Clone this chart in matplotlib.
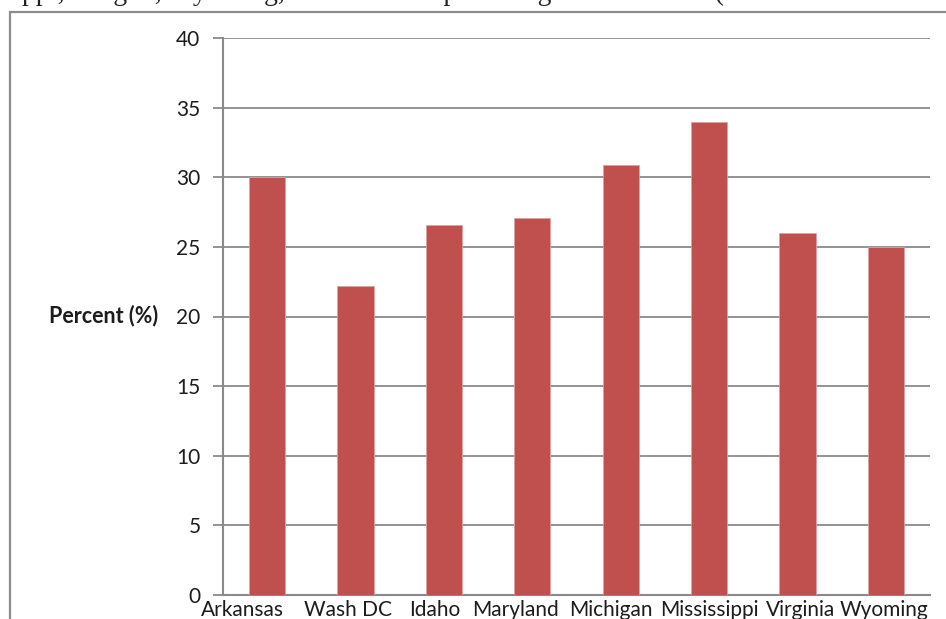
import matplotlib
matplotlib.use("Agg")
import matplotlib.pyplot as plt
from matplotlib.patches import Rectangle
from matplotlib.transforms import ScaledTranslation, blended_transform_factory

states = ["Arkansas", "Wash DC", "Idaho", "Maryland", "Michigan", "Mississippi", "Virginia", "Wyoming"]
percent = [30.0, 22.2, 26.6, 27.1, 30.9, 34.0, 26.0, 25.0]
yticks = [0, 5, 10, 15, 20, 25, 30, 35, 40]

W, H = 946, 619
fig = plt.figure(figsize=(W / 100, H / 100), dpi=100)
fig.patch.set_facecolor("white")

FONT = ["Lato", "DejaVu Sans"]
TXT = "#1c1c1c"

# surrounding document text (only its bottom edge is inside the crop)
fig.text(22 / W, 1 + 0.5 / H, "ppi, Oregon, Wyoming, and the other percentage of the adults (",
         family=["Liberation Serif"], fontsize=20, color="#222222", ha="left", va="baseline")

# chart frame
frame = Rectangle((10 / W, -0.1), 1.2, (H - 12) / H + 0.1, transform=fig.transFigure,
                  fill=False, edgecolor="#8c8c8c", linewidth=1.6, zorder=0)
fig.add_artist(frame)

ax = fig.add_axes([223 / W, (H - 595) / H, (930 - 223) / W, (595 - 38) / H])
x = list(range(len(states)))
ax.bar(x, percent, width=0.41, color="#C0504D", edgecolor="#d9a3a1", linewidth=0.6, zorder=3)

ax.set_xlim(-0.5, len(states) - 0.5)
ax.set_ylim(0, 40)
ax.set_yticks(yticks)
ax.set_yticklabels([str(v) for v in yticks], family=FONT, fontsize=15, color=TXT)
ax.set_xticks(x)
ax.set_xticklabels([])

# category labels, with the horizontal placement shifts (pixels) of the original chart
shifts_px = [-25, -8, -9, -17, -10, 0, 3, -2]
base = blended_transform_factory(ax.transData, ax.transAxes)
for xi, name, dx in zip(x, states, shifts_px):
    tr = base + ScaledTranslation(dx / 100, -15 / 100, fig.dpi_scale_trans)
    ax.text(xi, 0, name, transform=tr, family=FONT, fontsize=15, color=TXT,
            ha="center", va="center", clip_on=False)

ax.yaxis.grid(True, color="#8a8a8a", linewidth=1.3, zorder=0)
ax.set_axisbelow(True)
for s in ["top", "right"]:
    ax.spines[s].set_visible(False)
for s in ["left", "bottom"]:
    ax.spines[s].set_color("#8a8a8a")
    ax.spines[s].set_linewidth(1.5)
ax.tick_params(axis="y", length=7.2, width=1.3, color="#8a8a8a", pad=9)
ax.tick_params(axis="x", length=0, pad=3)

fig.text(158 / W, 1 - 316 / H, "Percent (%)", family=FONT, fontsize=15.5, fontweight="bold",
         color=TXT, ha="right", va="center")

fig.savefig("out.png", dpi=100)
